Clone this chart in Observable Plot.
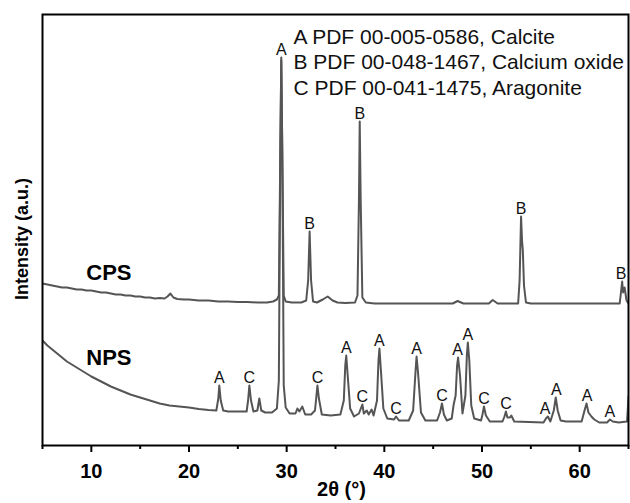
<!DOCTYPE html>
<html><head><meta charset="utf-8">
<script src="https://cdn.jsdelivr.net/npm/d3@7"></script>
<script src="https://cdn.jsdelivr.net/npm/@observablehq/plot@0.6"></script>
<style>body{margin:0;background:#fff}</style>
</head><body><div id="chart"></div>
<script>
// 2θ (°) and intensity (a.u.)
const cps = [[5,162],[5.5,161],[6,160],[6.5,159],[7,158],[7.5,158],[8,157],[8.5,156],[9,156],[9.5,155],[10,155],[10.5,154],[11,153],[11.5,153],[12,152],[12.5,151],[13,151],[13.5,150],[14,150],[14.5,149],[15,149],[15.5,148],[16,148],[16.5,147],[17,147.5],[17.5,147],[17.8,149],[18.1,152],[18.4,148],[18.8,146.5],[19.5,146],[20,146],[21,145],[22,145],[23,144],[24,144],[25,143.5],[26,143.5],[27,143],[28,143],[28.6,144],[29.0,146],[29.2,150],[29.35,295],[29.45,388],[29.55,295],[29.7,150],[29.9,144],[30.5,143],[31.5,143],[32.0,145],[32.2,165],[32.35,214],[32.5,165],[32.7,144],[33.1,143],[33.7,146],[34.2,149],[34.7,145],[35.2,143],[36,142.5],[37,143],[37.25,150],[37.4,245],[37.48,324],[37.58,245],[37.75,148],[38.1,143],[39,142],[41,142],[43,142],[45,142],[47,142],[47.5,144.5],[48.1,142],[50.7,142],[51.1,145.5],[51.6,142],[53.7,142],[53.85,165],[54.0,229],[54.1,205],[54.18,195],[54.3,160],[54.5,143],[55,142],[57,142],[59,142],[61,142],[63,142],[64.1,142],[64.25,155],[64.35,164],[64.45,153],[64.6,158],[64.8,145],[65,142]];
const nps = [[5,105],[5.5,100],[6,96],[6.5,92],[7,88],[7.5,84],[8,81],[8.5,78],[9,75],[9.5,72],[10,69],[10.5,66.5],[11,64],[11.5,61.5],[12,59],[12.5,57],[13,55],[13.5,53],[14,51],[14.5,49.5],[15,48],[15.5,46.5],[16,45],[16.5,43.5],[17,42],[17.5,41],[18,40],[18.5,39.5],[19,39],[20,38],[21,36.5],[22,35.5],[22.8,35],[23.0,47],[23.1,60],[23.25,45],[23.5,35],[24,34],[25,34],[25.9,34],[26.05,45],[26.18,60],[26.35,45],[26.6,34],[27.0,35],[27.2,47],[27.4,35],[27.8,33],[28.5,33],[29.0,37],[29.2,65],[29.35,295],[29.45,385],[29.55,295],[29.7,60],[29.9,38],[30.3,32],[30.9,32],[31.1,37],[31.3,34],[31.6,39],[31.9,31],[32.5,31],[32.9,35],[33.05,50],[33.15,60],[33.3,47],[33.6,31],[34.5,30],[35.5,31],[35.85,45],[36.0,80],[36.1,90],[36.25,70],[36.5,37],[36.9,29],[37.4,32],[37.75,41],[37.9,32],[38.2,35],[38.4,31],[38.7,36],[38.9,30],[39.25,45],[39.4,85],[39.5,97],[39.65,75],[39.9,37],[40.3,27],[41.0,26],[41.2,29],[41.5,25],[42.5,25],[42.95,35],[43.2,75],[43.3,89],[43.45,73],[43.75,33],[44.2,25],[45.4,25],[45.7,33],[45.9,42],[46.1,31],[46.4,25],[46.9,27],[47.1,41],[47.3,50],[47.45,80],[47.55,88],[47.75,70],[48.0,32],[48.3,50],[48.45,90],[48.55,103],[48.7,85],[48.9,40],[49.2,27],[49.9,25],[50.05,31],[50.2,39],[50.4,30],[50.8,24],[52.1,24],[52.3,29],[52.45,34],[52.6,28],[52.85,28],[53.0,30],[53.3,24],[56.3,23],[56.55,27],[56.75,29],[57.0,24],[57.35,35],[57.55,48],[57.75,35],[58.05,25],[58.6,24],[60.2,24],[60.5,35],[60.7,42],[60.9,33],[61.2,29],[61.5,26],[62,23],[62.8,23],[63.1,26],[63.4,24],[64,23],[64.85,24],[64.95,40],[65,49]];

// peak labels: 2θ, peak top, phase letter
const cpsPeaks = [[29.45,388,"A"],[32.35,214,"B"],[37.48,324,"B"],[54.0,229,"B"],[64.25,164,"B"]];
const npsPeaks = [[23.1,60,"A"],[26.18,60,"C"],[33.15,60,"C"],[36.1,90,"A"],[37.75,41,"C"],[39.5,97,"A"],[41.2,29,"C"],[43.3,89,"A"],[45.9,42,"C"],[47.5,88,"A"],[48.55,103,"A"],[50.2,39,"C"],[52.45,34,"C"],[56.45,29,"A"],[57.6,48,"A"],[60.75,42,"A"],[63.1,26,"A"]];
const sampleNames = [[11.8,173,"CPS"],[11.8,88,"NPS"]];
const legendLines = ["A PDF 00-005-0586, Calcite","B PDF 00-048-1467, Calcium oxide","C PDF 00-041-1475, Aragonite"];
const xTicks = [10,20,30,40,50,60];
const xMinorTicks = [5,15,25,35,45,55,65];
const xTitle = "2θ (°)";
const yTitle = "Intensity (a.u.)";

const toRows = (a) => a.map(([x, y]) => ({x, y}));
const peakRows = cpsPeaks.concat(npsPeaks).map(([x, y, t]) => ({x, y, t}));
const nameRows = sampleNames.map(([x, y, t]) => ({x, y, t}));

const chart = Plot.plot({
  width: 630, height: 503,
  marginTop: 14, marginBottom: 58, marginLeft: 42, marginRight: 2,
  style: {fontFamily: "'Liberation Sans', Arial, sans-serif", background: "#fff", color: "#000"},
  x: {domain: [5, 65]},
  y: {domain: [0, 431], axis: null},
  marks: [
    Plot.line(toRows(nps), {x: "x", y: "y", stroke: "#555", strokeWidth: 2, clip: true}),
    Plot.line(toRows(cps), {x: "x", y: "y", stroke: "#555", strokeWidth: 2, clip: true}),
    Plot.text(peakRows, {x: "x", y: "y", text: "t", lineAnchor: "bottom", dy: -3, fontSize: 16, fill: "#111"}),
    Plot.text(nameRows, {x: "x", y: "y", text: "t", fontSize: 22, fontWeight: "bold", fill: "#000"}),
    Plot.text([legendLines.join("\n")], {frameAnchor: "top-left", textAnchor: "start", lineAnchor: "top", dx: 251, dy: 11, fontSize: 21, lineHeight: 1.215, fill: "#111"}),
    Plot.axisX({ticks: xTicks, tickSize: 7, tickPadding: 11, fontSize: 20, fontWeight: "bold", strokeWidth: 2, label: null}),
    Plot.axisX({ticks: xMinorTicks, tickSize: 4, tickFormat: () => "", strokeWidth: 2, label: null}),
    Plot.text([xTitle], {frameAnchor: "bottom", dy: 50, dx: 6, fontSize: 20, fontWeight: "bold", fill: "#000"}),
    Plot.text([yTitle], {frameAnchor: "left", rotate: -90, textAnchor: "middle", dx: -20, dy: 9, fontSize: 18, fontWeight: "bold", fill: "#000"}),
    Plot.frame({stroke: "#000", strokeWidth: 2})
  ]
});
document.getElementById("chart").appendChild(chart);
</script>
</body></html>
